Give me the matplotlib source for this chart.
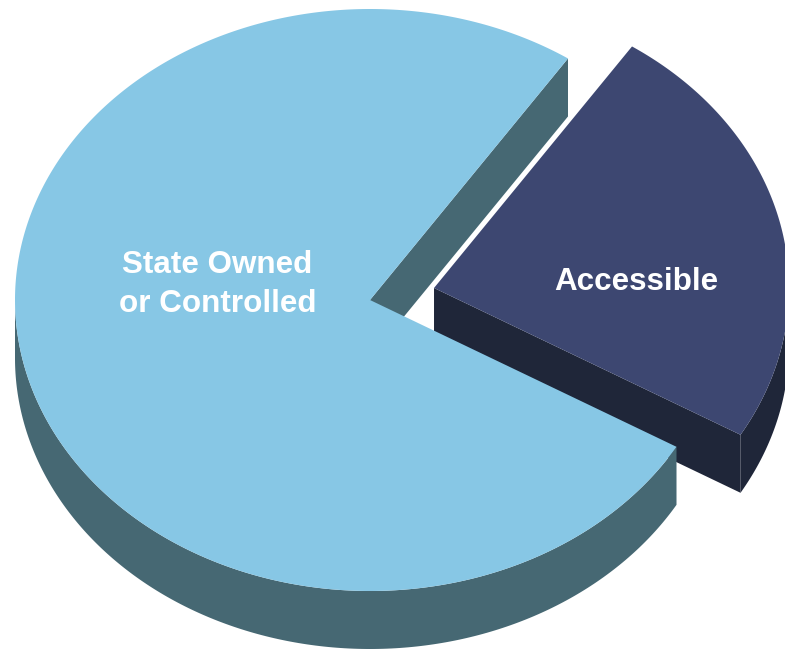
import numpy as np
import matplotlib.pyplot as plt
from matplotlib.patches import Polygon

# --------------------------
# Data
# --------------------------
labels = ["Accessible", "State Owned\nor Controlled"]
shares = [24, 76]
top_colors = ["#3D4771", "#87C7E5"]
side_colors = ["#1F2639", "#466873"]

# --------------------------
# Layout (pixel space of the 785x651 canvas)
# --------------------------
W, H = 785, 651
cx, cy = 370, 300          # pie centre
rx, ry = 355, 291          # ellipse radii of the top face
depth = 58                 # thickness of the 3D pie
start_angle = -30.3        # degrees, counter-clockwise
explode = [0.185, 0.0]
label_offsets = [(0.57, 0.02), (-0.43, 0.053)]   # in ellipse units from slice origin

plt.rcParams['font.family'] = ['Liberation Sans', 'DejaVu Sans']

fig = plt.figure(figsize=(W / 100, H / 100), dpi=100)
ax = fig.add_axes([0, 0, 1, 1])
ax.set_xlim(0, W)
ax.set_ylim(H, 0)
ax.axis('off')


def pt(ox, oy, t, r=1.0):
    a = np.radians(t)
    return ox + rx * r * np.cos(a), oy - ry * r * np.sin(a)


t0 = start_angle
for i, share in enumerate(shares):
    t1 = t0 + share / 100 * 360
    mid = (t0 + t1) / 2
    ox, oy = pt(cx, cy, mid, explode[i])

    # radial (cut) faces that face the viewer
    for t, visible in ((t0, np.cos(np.radians(t0)) > 0), (t1, np.cos(np.radians(t1)) < 0)):
        if visible:
            ex, ey = pt(ox, oy, t)
            ax.add_patch(Polygon([(ox, oy), (ex, ey), (ex, ey + depth), (ox, oy + depth)],
                                 closed=True, facecolor=side_colors[i], edgecolor='none'))

    # outer wall, front half only
    ts = np.linspace(t0, t1, 400)
    front = np.sin(np.radians(ts)) <= 1e-9
    runs, cur = [], []
    for t, f in zip(ts, front):
        if f:
            cur.append(t)
        elif cur:
            runs.append(cur)
            cur = []
    if cur:
        runs.append(cur)
    for run in runs:
        run = np.array(run)
        xs, ys = pt(ox, oy, run)
        poly = np.column_stack([np.r_[xs, xs[::-1]], np.r_[ys, (ys + depth)[::-1]]])
        ax.add_patch(Polygon(poly, closed=True, facecolor=side_colors[i], edgecolor='none'))

    # top face
    xs, ys = pt(ox, oy, ts)
    poly = np.column_stack([np.r_[ox, xs], np.r_[oy, ys]])
    ax.add_patch(Polygon(poly, closed=True, facecolor=top_colors[i], edgecolor='none'))

    # label
    lx = ox + rx * label_offsets[i][0]
    ly = oy - ry * label_offsets[i][1]
    ax.text(lx, ly, labels[i], ha='center', va='center', color='white',
            fontsize=22.6, fontweight='bold', linespacing=1.4)

    t0 = t1

fig.savefig('out.png', dpi=100, facecolor='white')
